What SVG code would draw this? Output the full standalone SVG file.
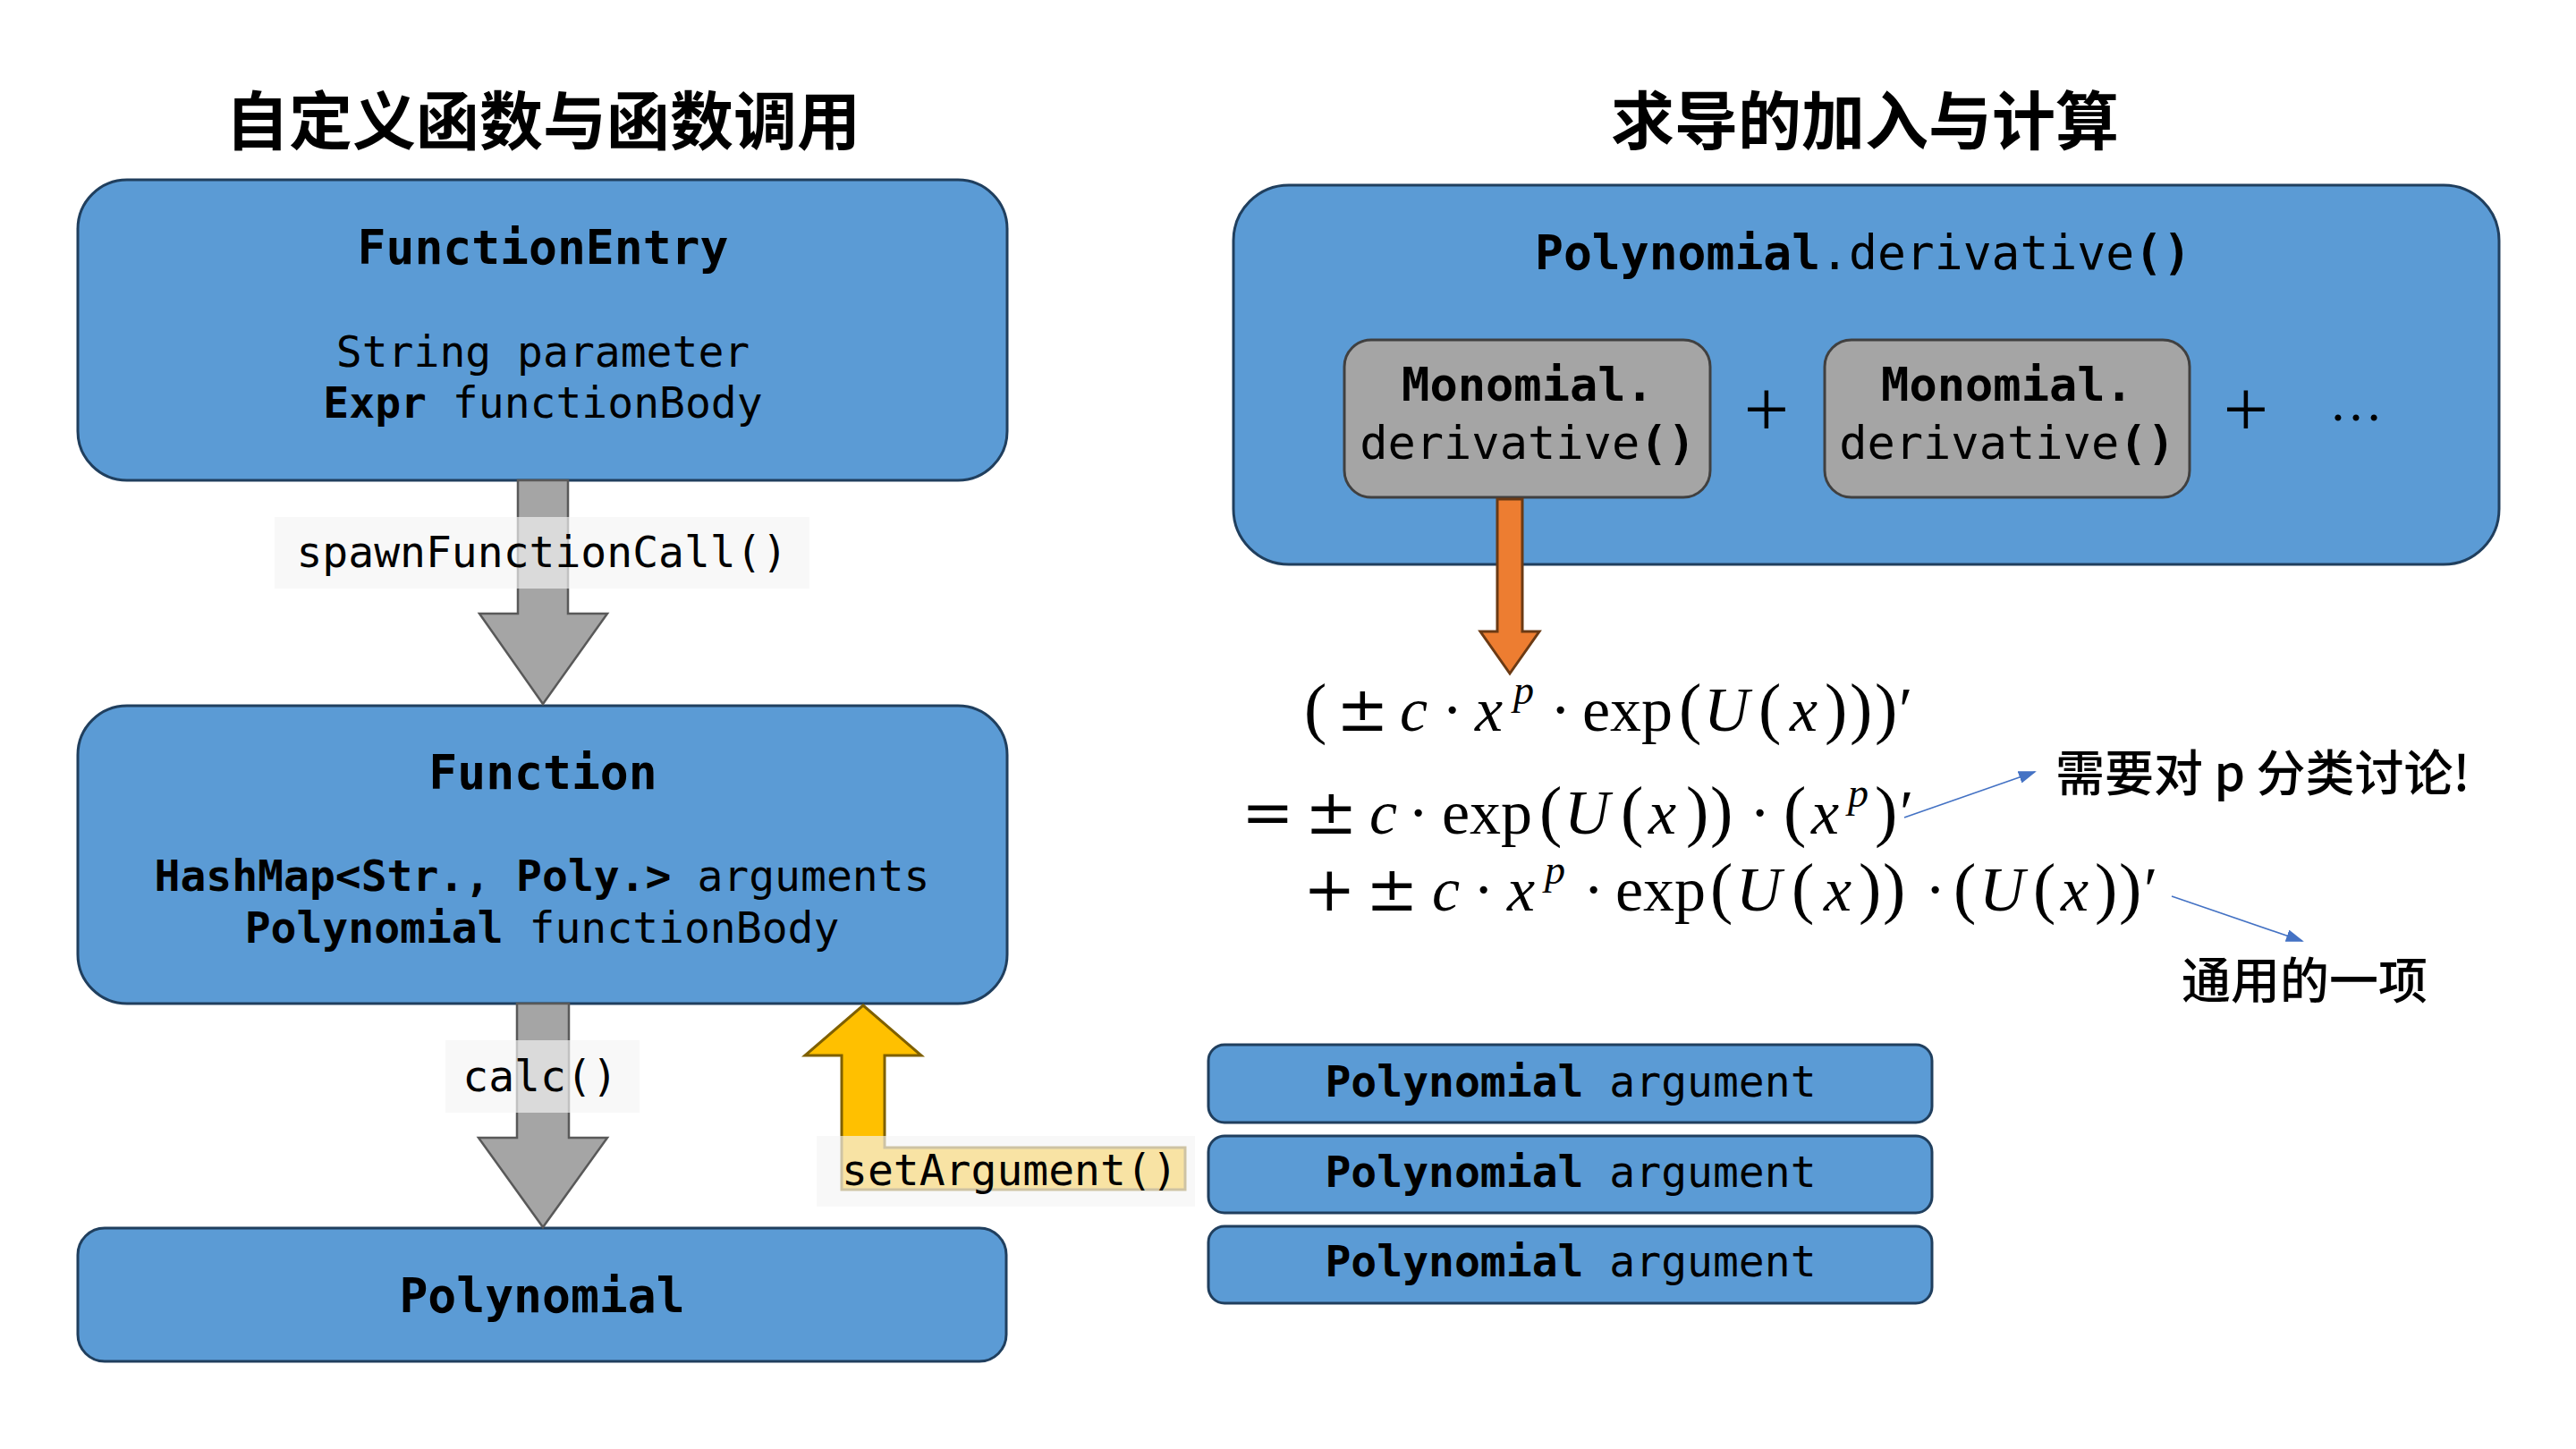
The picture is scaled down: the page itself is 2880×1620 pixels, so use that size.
<svg xmlns="http://www.w3.org/2000/svg" width="2880" height="1620" viewBox="0 0 2880 1620">
<style>
.mono{font-family:"DejaVu Sans Mono","Liberation Mono",monospace;fill:#000;}
.b{font-weight:bold;}
.c{text-anchor:middle;}
.s48{font-size:48px;}
.s52{font-size:52px;}
.s53{font-size:53px;}
.node{fill:#5B9BD5;stroke:#203F5E;stroke-width:3;}
.gnode{fill:#A5A5A5;stroke:#404040;stroke-width:3;}
.title{font-family:"Noto Sans CJK SC","Noto Sans",sans-serif;font-weight:700;font-size:71px;text-anchor:middle;fill:#000;}
.note{font-family:"Noto Sans CJK SC","Noto Sans",sans-serif;font-weight:500;font-size:55px;fill:#000;}
.math{font-family:"Liberation Serif","DejaVu Serif",serif;font-size:70px;fill:#000;}
.it{font-style:italic;}
.pa{font-size:76px;}
.op{font-family:"DejaVu Serif","Liberation Serif",serif;font-size:70px;}
.sup{font-size:46px;font-style:italic;}
.lbl{fill:#F4F4F4;fill-opacity:0.67;}
.garrow{fill:#A5A5A5;stroke:#595959;stroke-width:2.5;stroke-linejoin:miter;}
.yarrow{fill:#FFC000;stroke:#7F6000;stroke-width:3;}
.oarrow{fill:#ED7D31;stroke:#6B3A14;stroke-width:3;}
.ann{stroke:#4472C4;stroke-width:1.6;fill:none;}
</style>
<defs>
<marker id="ah" viewBox="0 0 20 14" refX="18" refY="7" markerWidth="20" markerHeight="14" markerUnits="userSpaceOnUse" orient="auto">
<path d="M0,0 L20,7 L0,14 Z" fill="#4472C4"/>
</marker>
</defs>
<rect width="2880" height="1620" fill="#FFFFFF"/>

<g id="titles">
<text class="title" x="607" y="161">自定义函数与函数调用</text>
<text class="title" x="2085" y="161">求导的加入与计算</text>
</g>

<g id="node-function-entry">
<rect class="node" x="87" y="201" width="1039" height="336" rx="55" ry="55"/>
<text class="mono b s53 c" x="607" y="295">FunctionEntry</text>
<text class="mono s48 c" x="607" y="410">String parameter</text>
<text class="mono s48 c" x="607" y="467"><tspan class="b">Expr</tspan> functionBody</text>
</g>

<g id="node-function">
<rect class="node" x="87" y="789" width="1039" height="333" rx="55" ry="55"/>
<text class="mono b s53 c" x="607" y="882">Function</text>
<text class="mono s48 c" x="606" y="996"><tspan class="b">HashMap&lt;Str., Poly.&gt;</tspan> arguments</text>
<text class="mono s48 c" x="606" y="1054"><tspan class="b">Polynomial</tspan> functionBody</text>
</g>

<g id="node-polynomial">
<rect class="node" x="87" y="1373" width="1038" height="149" rx="30" ry="30"/>
<text class="mono b s53 c" x="606" y="1467">Polynomial</text>
</g>

<g id="node-poly-derivative">
<rect class="node" x="1379" y="207" width="1415" height="424" rx="62" ry="62"/>
<text class="mono s53 c" x="2083" y="301"><tspan class="b">Polynomial</tspan>.derivative<tspan class="b">()</tspan></text>
</g>

<g id="node-mono-1">
<rect class="gnode" x="1503" y="380" width="409" height="176" rx="30" ry="30"/>
<text class="mono b s52 c" x="1708" y="448">Monomial.</text>
<text class="mono s52 c" x="1708" y="513">derivative<tspan class="b">()</tspan></text>
</g>

<g id="node-mono-2">
<rect class="gnode" x="2040" y="380" width="408" height="176" rx="30" ry="30"/>
<text class="mono b s52 c" x="2244" y="448">Monomial.</text>
<text class="mono s52 c" x="2244" y="513">derivative<tspan class="b">()</tspan></text>
</g>

<g id="sum-signs">
<text class="math c" x="1975" y="488" style="font-size:90px">+</text>
<text class="math c" x="2511" y="488" style="font-size:90px">+</text>
<text class="math c" x="2634" y="470" style="font-size:60px">…</text>
</g>

<g id="node-arg-1">
<rect class="node" x="1351" y="1168" width="809" height="87" rx="18" ry="18"/>
<text class="mono s48 c" x="1756" y="1226"><tspan class="b">Polynomial</tspan> argument</text>
</g>
<g id="node-arg-2">
<rect class="node" x="1351" y="1270" width="809" height="86" rx="18" ry="18"/>
<text class="mono s48 c" x="1756" y="1327"><tspan class="b">Polynomial</tspan> argument</text>
</g>
<g id="node-arg-3">
<rect class="node" x="1351" y="1371" width="809" height="86" rx="18" ry="18"/>
<text class="mono s48 c" x="1756" y="1427"><tspan class="b">Polynomial</tspan> argument</text>
</g>

<g id="formula" class="math">
<text y="817"><tspan class="pa" x="1458" y="817">(</tspan><tspan class="op" x="1494" y="817">±</tspan><tspan class="it" x="1565" y="817">c</tspan><tspan x="1612" y="817">·</tspan><tspan class="it" x="1649" y="817">x</tspan><tspan class="sup" x="1692" y="787">p</tspan><tspan x="1733" y="817">·</tspan><tspan x="1769" y="817">exp</tspan><tspan class="pa" x="1877" y="817">(</tspan><tspan class="it" x="1905" y="817">U</tspan><tspan class="pa" x="1966" y="817">(</tspan><tspan class="it" x="2001" y="817">x</tspan><tspan class="pa" x="2040" y="817">)</tspan><tspan class="pa" x="2068" y="817">)</tspan><tspan class="pa" x="2096" y="817">)</tspan><tspan x="2123" y="817">′</tspan></text>
<text y="932"><tspan class="op" x="1388" y="932">=</tspan><tspan class="op" x="1459" y="932">±</tspan><tspan class="it" x="1531" y="932">c</tspan><tspan x="1574" y="932">·</tspan><tspan x="1612" y="932">exp</tspan><tspan class="pa" x="1721" y="932">(</tspan><tspan class="it" x="1749" y="932">U</tspan><tspan class="pa" x="1812" y="932">(</tspan><tspan class="it" x="1843" y="932">x</tspan><tspan class="pa" x="1885" y="932">)</tspan><tspan class="pa" x="1912" y="932">)</tspan><tspan x="1956" y="932">·</tspan><tspan class="pa" x="1994" y="932">(</tspan><tspan class="it" x="2025" y="932">x</tspan><tspan class="sup" x="2066" y="902">p</tspan><tspan class="pa" x="2096" y="932">)</tspan><tspan x="2124" y="932">′</tspan></text>
<text y="1018"><tspan class="op" x="1457" y="1018">+</tspan><tspan class="op" x="1527" y="1018">±</tspan><tspan class="it" x="1601" y="1018">c</tspan><tspan x="1647" y="1018">·</tspan><tspan class="it" x="1685" y="1018">x</tspan><tspan class="sup" x="1727" y="988">p</tspan><tspan x="1770" y="1018">·</tspan><tspan x="1806" y="1018">exp</tspan><tspan class="pa" x="1912" y="1018">(</tspan><tspan class="it" x="1941" y="1018">U</tspan><tspan class="pa" x="2003" y="1018">(</tspan><tspan class="it" x="2039" y="1018">x</tspan><tspan class="pa" x="2078" y="1018">)</tspan><tspan class="pa" x="2105" y="1018">)</tspan><tspan x="2152" y="1018">·</tspan><tspan class="pa" x="2184" y="1018">(</tspan><tspan class="it" x="2213" y="1018">U</tspan><tspan class="pa" x="2273" y="1018">(</tspan><tspan class="it" x="2304" y="1018">x</tspan><tspan class="pa" x="2342" y="1018">)</tspan><tspan class="pa" x="2369" y="1018">)</tspan><tspan x="2397" y="1018">′</tspan></text>
</g>

<g id="notes">
<text class="note" x="2298" y="884">需要对 p 分类讨论!</text>
<text class="note" x="2439" y="1116">通用的一项</text>
</g>

<g id="connectors">
<polygon class="garrow" points="579,537 635,537 635,686 679,686 607,787 536,686 579,686"/>
<polygon class="garrow" points="578,1122 636,1122 636,1272 679,1272 607,1372 535,1272 578,1272"/>
<polygon class="yarrow" points="941,1330 1325,1330 1325,1283 989,1283 989,1180 1030,1180 965,1124 900,1180 941,1180"/>
<polygon class="oarrow" points="1674,558 1702,558 1702,706 1721,706 1688,753 1655,706 1674,706"/>
<line class="ann" x1="2129" y1="914" x2="2275" y2="863" marker-end="url(#ah)"/>
<line class="ann" x1="2428" y1="1002" x2="2574" y2="1052" marker-end="url(#ah)"/>
<rect class="lbl" x="307" y="578" width="598" height="80"/>
<text class="mono s48 c" x="606" y="634">spawnFunctionCall()</text>
<rect class="lbl" x="498" y="1163" width="217" height="81"/>
<text class="mono s48 c" x="604" y="1220">calc()</text>
<rect class="lbl" x="913" y="1270" width="423" height="79"/>
<text class="mono s48" x="941" y="1325">setArgument()</text>
</g>
</svg>
